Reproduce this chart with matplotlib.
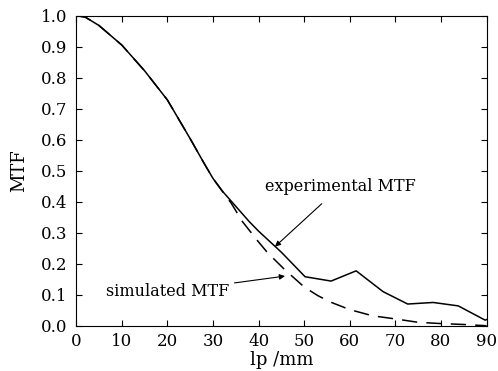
import numpy as np
import matplotlib
matplotlib.use("Agg")
import matplotlib.pyplot as plt

# data
exp_freq = [0, 2, 5, 10, 15, 20, 25, 28, 30, 32, 35, 38, 40, 45, 50.2, 55.9, 61.4, 67.3, 72.7, 78.3, 83.8, 89.7, 90]
exp_mtf = [1.0, 0.995, 0.968, 0.905, 0.822, 0.728, 0.603, 0.525, 0.475, 0.435, 0.385, 0.335, 0.305, 0.237, 0.158, 0.144, 0.177, 0.110, 0.070, 0.075, 0.064, 0.018, 0.02]

sim_freq = [0, 2, 5, 10, 15, 20, 25, 28, 30, 32, 34, 36.5, 40, 42, 45.8, 50, 53, 56, 60, 65, 70, 75, 80, 85, 90]
sim_mtf = [1.0, 0.995, 0.968, 0.905, 0.822, 0.728, 0.603, 0.525, 0.475, 0.435, 0.395, 0.335, 0.27, 0.235, 0.18, 0.125, 0.097, 0.075, 0.052, 0.032, 0.022, 0.011, 0.007, 0.004, 0.0]

tick_font = 12
label_font = 13
note_font = 11.5

plt.rcParams['font.family'] = ['DejaVu Serif']

fig = plt.figure(figsize=(4.98, 3.71), dpi=100)
ax = fig.add_axes([0.153, 0.122, 0.824, 0.836])

ax.plot(exp_freq, exp_mtf, color='black', lw=1.1)
ax.plot(sim_freq, sim_mtf, color='black', lw=1.1, dashes=(10, 6))

ax.set_xlim(0, 90)
ax.set_ylim(0, 1.0)
ax.set_xticks(np.arange(0, 91, 10))
ax.set_yticks(np.arange(0, 1.01, 0.1))
ax.set_yticklabels(['%.1f' % v for v in np.arange(0, 1.01, 0.1)])
ax.tick_params(direction='in', top=True, right=True, length=4, width=0.8,
               labelsize=tick_font)
ax.tick_params(axis='y', pad=6.5)
ax.tick_params(axis='x', pad=5)
ax.set_xlabel('lp /mm', fontsize=label_font, labelpad=1)
ax.set_ylabel('MTF', fontsize=label_font, labelpad=9)

ax.annotate('experimental MTF', xy=(43.6, 0.255), xytext=(57.9, 0.448),
            ha='center', va='center', fontsize=note_font,
            arrowprops=dict(arrowstyle='-|>', color='black', lw=0.8,
                            mutation_scale=8, shrinkA=6, shrinkB=0))
ax.annotate('simulated MTF', xy=(45.8, 0.16), xytext=(20.0, 0.109),
            ha='center', va='center', fontsize=note_font,
            arrowprops=dict(arrowstyle='-|>', color='black', lw=0.8,
                            mutation_scale=8, shrinkA=2, shrinkB=0))

fig.savefig('out.png', dpi=100)
